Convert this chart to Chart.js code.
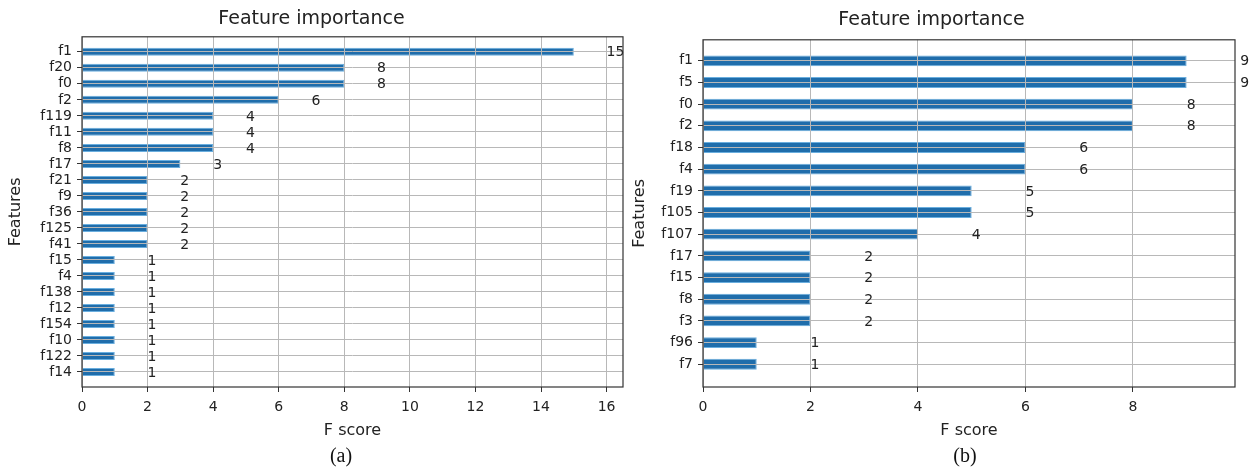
<!DOCTYPE html>
<html>
<head>
<meta charset="utf-8">
<script src="https://cdn.jsdelivr.net/npm/chart.js"></script>
<style>
  body { margin: 0; background: #fff; }
  #wrap { position: relative; width: 1255px; height: 472px; overflow: hidden; }
  .panel { position: absolute; top: 0; height: 445px; }
  .caption { position: absolute; top: 444px; width: 60px; text-align: center;
             font-family: "Liberation Serif", "Times New Roman", serif; font-size: 20px; color: #111; }
</style>
</head>
<body>
<div id="wrap">
  <div class="panel" style="left:0; width:628px;"><canvas id="chartA"></canvas></div>
  <div class="panel" style="left:628px; width:627px;"><canvas id="chartB"></canvas></div>
  <div class="caption" style="left:311px;">(a)</div>
  <div class="caption" style="left:935px;">(b)</div>
</div>

<script>
  // panel (a)
  const featuresA = ['f1', 'f20', 'f0', 'f2', 'f119', 'f11', 'f8', 'f17', 'f21', 'f9', 'f36',
                     'f125', 'f41', 'f15', 'f4', 'f138', 'f12', 'f154', 'f10', 'f122', 'f14'];
  const scoresA = [15, 8, 8, 6, 4, 4, 4, 3, 2, 2, 2, 2, 2, 1, 1, 1, 1, 1, 1, 1, 1];

  // panel (b)
  const featuresB = ['f1', 'f5', 'f0', 'f2', 'f18', 'f4', 'f19', 'f105', 'f107',
                     'f17', 'f15', 'f8', 'f3', 'f96', 'f7'];
  const scoresB = [9, 9, 8, 8, 6, 6, 5, 5, 4, 2, 2, 2, 2, 1, 1];

  const FONT = '"DejaVu Sans", Verdana, sans-serif';
  const TEXT = '#222';

  // value labels at score + 1, like xgboost's plot_importance
  const valueLabels = {
    id: 'valueLabels',
    afterDraw(chart) {
      const {ctx, scales: {x, y}} = chart;
      const vals = chart.data.datasets[0].data;
      ctx.save();
      ctx.font = '14px ' + FONT;
      ctx.fillStyle = TEXT;
      ctx.textAlign = 'left';
      ctx.textBaseline = 'middle';
      vals.forEach(p => {
        ctx.fillText(String(p.x), x.getPixelForValue(p.x + 1), y.getPixelForValue(p.y) + 1);
      });
      ctx.restore();
    }
  };

  // full frame around the plot
  const frame = {
    id: 'frame',
    afterDraw(chart) {
      const a = chart.chartArea;
      const ctx = chart.ctx;
      ctx.save();
      ctx.strokeStyle = '#333';
      ctx.lineWidth = 1.2;
      ctx.strokeRect(a.left, a.top, a.right - a.left, a.bottom - a.top);
      ctx.restore();
    }
  };

  function makeChart(id, features, scores, g) {
    const xMax = Math.max(...scores) * 1.1;
    return new Chart(document.getElementById(id), {
      type: 'bar',
      data: {
        datasets: [{
          data: scores.map((v, i) => ({x: v, y: i})),
          backgroundColor: '#1f6dab',
          borderColor: '#6aaede',
          borderWidth: 1,
          barPercentage: 0.5,
          categoryPercentage: 1
        }]
      },
      options: {
        indexAxis: 'y',
        responsive: true,
        maintainAspectRatio: false,
        animation: false,
        layout: { padding: { left: 0, right: g.padRight, top: 0, bottom: 0 } },
        plugins: {
          legend: { display: false },
          tooltip: { enabled: false },
          title: {
            display: true,
            text: 'Feature importance',
            color: TEXT,
            font: { family: FONT, size: 19, weight: 'normal' },
            padding: { top: g.titleTop, bottom: g.titleBottom }
          }
        },
        scales: {
          x: {
            type: 'linear',
            bounds: 'data',
            min: 0,
            max: xMax,
            afterBuildTicks: s => {
              const t = [];
              for (let v = 0; v <= s.max; v += 2) t.push({value: v});
              s.ticks = t;
            },
            afterFit: s => { s.height = 58; },
            ticks: { autoSkip: false, color: TEXT, font: { family: FONT, size: 14 }, padding: 7 },
            grid: { color: '#b8b8b8', lineWidth: 1, z: 1, tickColor: '#333', tickLength: 5 },
            border: { display: false },
            title: { display: true, text: 'F score', color: TEXT,
                     font: { family: FONT, size: 16 }, padding: { top: 0, bottom: 5 } }
          },
          y: {
            type: 'linear',
            bounds: 'data',
            offset: false,
            reverse: true,
            min: g.yMin,
            max: g.yMax,
            afterBuildTicks: s => { s.ticks = features.map((f, i) => ({value: i})); },
            afterFit: s => { s.width = g.yWidth; },
            ticks: { autoSkip: false, color: TEXT, font: { family: FONT, size: 14 }, padding: 5,
                     callback: v => features[v] },
            grid: { offset: false, color: '#b8b8b8', lineWidth: 1, z: 1, tickColor: '#333', tickLength: 5 },
            border: { display: false },
            title: { display: true, text: 'Features', color: TEXT,
                     font: { family: FONT, size: 16 }, padding: { top: g.yTitlePad, bottom: 0 } }
          }
        }
      },
      plugins: [valueLabels, frame]
    });
  }

  makeChart('chartA', featuresA, scoresA,
            { padRight: 5, titleTop: 8, titleBottom: 6, yMin: -0.94, yMax: 20.94, yWidth: 82, yTitlePad: 6 });
  makeChart('chartB', featuresB, scoresB,
            { padRight: 20, titleTop: 9, titleBottom: 8, yMin: -0.97, yMax: 15.05, yWidth: 75, yTitlePad: 2 });
</script>
</body>
</html>
